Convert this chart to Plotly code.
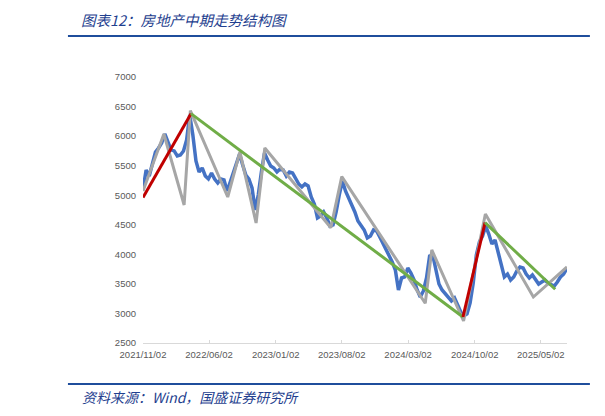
import pandas as pd
import plotly.graph_objects as go

# ---- data ----
blue_start = "2021-11-02"
blue_values = [5089, 5427, 5326, 5563, 5732, 5799, 5884, 6036, 5884, 5766, 5749, 5664, 5681, 5749, 5935, 6358,
               6019, 5579, 5393, 5461, 5326, 5275, 5376, 5275, 5207, 5275, 5258, 5072, 5224, 5376, 5512, 5698,
               5512, 5343, 5275, 5123, 4750, 5004, 5393, 5715, 5596, 5495, 5461, 5393, 5444, 5427, 5326, 5393,
               5376, 5275, 5190, 5140, 5190, 5157, 4970, 4852, 4615, 4649, 4717, 4615, 4480, 4497, 4717, 5004,
               5241, 5072, 4953, 4852, 4717, 4564, 4497, 4412, 4277, 4310, 4412, 4395, 4294, 4192, 4107, 3989,
               3871, 3735, 3397, 3600, 3617, 3769, 3684, 3566, 3397, 3278, 3380, 3600, 3972, 3989, 3735, 3498,
               3397, 3329, 3278, 3211, 3261, 3143, 3025, 2957, 2991, 3177, 3515, 3989, 4209, 4310, 4480, 4344,
               4175, 4243, 4040, 3837, 3617, 3667, 3566, 3617, 3718, 3786, 3769, 3667, 3600, 3651, 3566, 3498,
               3532, 3566, 3515, 3481, 3464, 3532, 3617, 3667, 3752]
blue_dates = pd.date_range(blue_start, periods=len(blue_values), freq="10D")

gray_dates = ["2021-11-02", "2022-01-08", "2022-03-14", "2022-04-03", "2022-08-01", "2022-09-09",
              "2022-10-31", "2022-11-28", "2023-06-28", "2023-08-02", "2024-04-26", "2024-05-17",
              "2024-08-27", "2024-11-05", "2025-04-08", "2025-07-25"]
gray_values = [5070, 6036, 4835, 6430, 4970, 5732, 4530, 5799, 4451, 5314, 3172, 4074, 2872, 4683, 3278, 3786]

red1_dates = ["2021-11-02", "2022-04-05"]
red1_values = [4960, 6380]
green1_dates = ["2022-04-05", "2024-08-25"]
green1_values = [6380, 2940]
red2_dates = ["2024-08-25", "2024-11-04"]
red2_values = [2940, 4535]
green2_dates = ["2024-11-04", "2025-06-17"]
green2_values = [4535, 3409]

tick_dates = ["2021-11-02", "2022-06-02", "2023-01-02", "2023-08-02", "2024-03-02", "2024-10-02", "2025-05-02"]
tick_labels = ["2021/11/02", "2022/06/02", "2023/01/02", "2023/08/02", "2024/03/02", "2024/10/02", "2025/05/02"]
y_ticks = [2500, 3000, 3500, 4000, 4500, 5000, 5500, 6000, 6500, 7000]

title_text = "图表12：房地产中期走势结构图"
source_text = "资料来源：Wind，国盛证券研究所"

# ---- figure ----
fig = go.Figure()
fig.add_trace(go.Scatter(x=blue_dates, y=blue_values, mode="lines",
                         line=dict(color="#4472C4", width=3.5), showlegend=False))
fig.add_trace(go.Scatter(x=gray_dates, y=gray_values, mode="lines",
                         line=dict(color="#A6A6A6", width=3), showlegend=False))
for xs, ys, c in [(red1_dates, red1_values, "#C00000"), (green1_dates, green1_values, "#70AD47"),
                  (red2_dates, red2_values, "#C00000"), (green2_dates, green2_values, "#70AD47")]:
    fig.add_trace(go.Scatter(x=xs, y=ys, mode="lines", line=dict(color=c, width=3), showlegend=False))

axis_font = dict(family="Liberation Sans, Arial, sans-serif", size=9.5, color="#595959")
fig.update_xaxes(type="date", range=["2021-11-02", "2025-07-25"], tickvals=tick_dates, ticktext=tick_labels,
                 showgrid=False, zeroline=False, showline=True, linecolor="#D9D9D9", linewidth=1,
                 ticks="inside", ticklen=3, tickcolor="#D9D9D9", tickfont=axis_font, ticklabelstandoff=3)
fig.update_yaxes(range=[2500, 7000], tickvals=y_ticks, showgrid=False, zeroline=False, showline=False,
                 ticks="", tickfont=axis_font, ticklabelstandoff=6)

rule_color = "#1F4E9C"
shapes = []
for yy in [1.154, -0.154]:
    shapes.append(dict(type="line", xref="paper", yref="paper", x0=-0.177, x1=1.054, y0=yy, y1=yy,
                       line=dict(color=rule_color, width=2)))
    shapes.append(dict(type="line", xref="paper", yref="paper", x0=1.073, x1=1.09, y0=yy, y1=yy,
                       line=dict(color=rule_color, width=2)))

cjk = "Noto Sans CJK SC, sans-serif"
fig.update_layout(
    width=605, height=416,
    margin=dict(l=135, r=46, t=69, b=81),
    paper_bgcolor="white", plot_bgcolor="white",
    shapes=shapes,
    annotations=[
        dict(text=title_text, xref="paper", yref="paper", x=-0.151, y=1.216, xanchor="left", yanchor="middle",
             showarrow=False, font=dict(family=cjk, size=14.5, color="#1F3F8F", style="italic")),
        dict(text=source_text, xref="paper", yref="paper", x=-0.149, y=-0.203, xanchor="left", yanchor="middle",
             showarrow=False, font=dict(family=cjk, size=14, color="#1F3F8F", style="italic")),
    ],
)
fig.write_html("out.html")
